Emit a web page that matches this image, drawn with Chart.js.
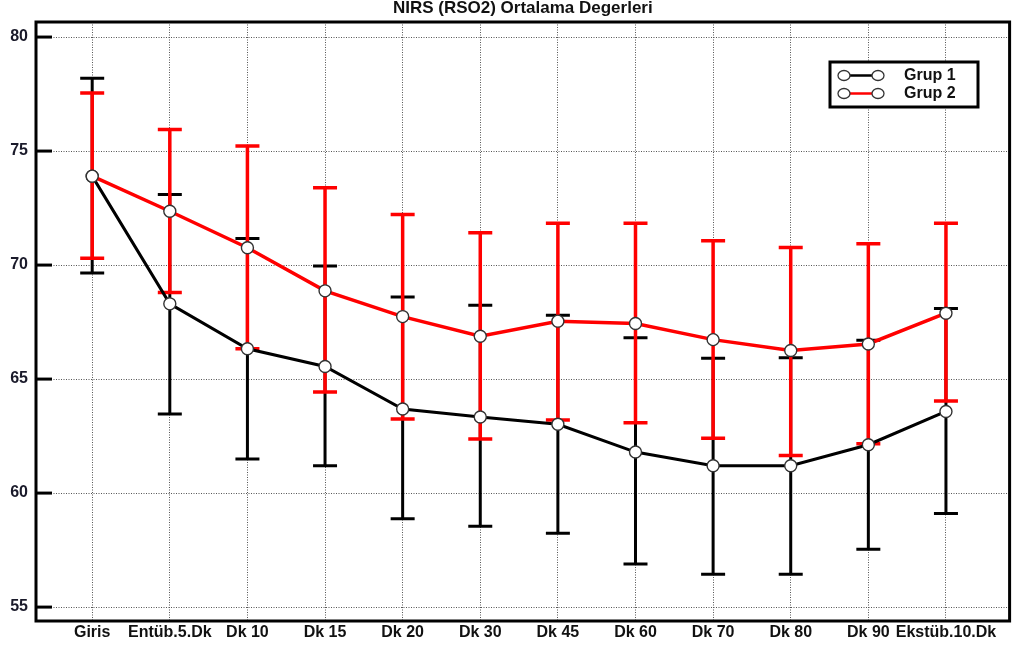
<!DOCTYPE html>
<html><head><meta charset="utf-8">
<script src="https://cdn.jsdelivr.net/npm/chart.js@4.4.0/dist/chart.umd.min.js"></script>
<style>html,body{margin:0;padding:0;background:#fff;}#wrap{width:1017px;height:655px;}</style>
</head><body><div id="wrap"><canvas id="c" width="1017" height="655"></canvas></div>
<script>
const titleText = 'NIRS (RSO2) Ortalama Degerleri';
const categories = ['Giris','Entüb.5.Dk','Dk 10','Dk 15','Dk 20','Dk 30','Dk 45','Dk 60','Dk 70','Dk 80','Dk 90','Ekstüb.10.Dk'];
const yTicks = [55, 60, 65, 70, 75, 80];
const seriesNames = ['Grup 1', 'Grup 2'];

const grup1Mean  = [73.9, 68.3, 66.33, 65.55, 63.69, 63.34, 63.02, 61.8, 61.2, 61.2, 62.12, 63.58];
const grup1Upper = [78.19, 73.1, 71.17, 69.96, 68.6, 68.24, 67.8, 66.81, 65.91, 65.93, 66.7, 68.1];
const grup1Lower = [69.65, 63.47, 61.5, 61.2, 58.87, 58.55, 58.24, 56.89, 56.44, 56.44, 57.54, 59.1];

const grup2Mean  = [73.9, 72.36, 70.76, 68.87, 67.74, 66.88, 67.54, 67.44, 66.73, 66.25, 66.54, 67.89];
const grup2Upper = [77.55, 75.95, 75.22, 73.39, 72.22, 71.42, 71.83, 71.83, 71.07, 70.77, 70.94, 71.83];
const grup2Lower = [70.3, 68.8, 66.33, 64.43, 63.25, 62.37, 63.21, 63.08, 62.41, 61.65, 62.16, 64.04];

const toPts = arr => arr.map((v, i) => ({x: i + 1, y: v}));
const FONT = '"Liberation Sans", Arial, sans-serif';

const errorBars = {
  id: 'errorBars',
  beforeDatasetsDraw(chart) {
    const {ctx, scales: {x, y}} = chart;
    const sets = [[grup1Upper, grup1Lower, '#000000', 3], [grup2Upper, grup2Lower, '#ff0000', 3.5]];
    ctx.save();
    ctx.lineCap = 'butt';
    sets.forEach(([up, lo, col, lw]) => {
      ctx.strokeStyle = col;
      ctx.lineWidth = lw;
      up.forEach((u, i) => {
        const px = x.getPixelForValue(i + 1);
        const pu = y.getPixelForValue(u), pl = y.getPixelForValue(lo[i]);
        ctx.beginPath();
        ctx.moveTo(px, pu); ctx.lineTo(px, pl);
        ctx.moveTo(px - 12, pu); ctx.lineTo(px + 12, pu);
        ctx.moveTo(px - 12, pl); ctx.lineTo(px + 12, pl);
        ctx.stroke();
      });
    });
    ctx.restore();
  }
};

const frame = {
  id: 'frame',
  afterDraw(chart) {
    const {ctx, chartArea: a, scales: {y}} = chart;
    ctx.save();
    ctx.strokeStyle = '#000';
    ctx.lineWidth = 3;
    ctx.strokeRect(a.left, a.top, a.right - a.left, a.bottom - a.top);
    yTicks.forEach(v => {
      const py = y.getPixelForValue(v);
      ctx.beginPath(); ctx.moveTo(a.left, py); ctx.lineTo(a.left + 16, py); ctx.stroke();
    });
    ctx.restore();
  }
};

const legendBox = {
  id: 'legendBox',
  afterDraw(chart) {
    const {ctx} = chart;
    const bx = 830, by = 62, bw = 148, bh = 45;
    ctx.save();
    ctx.fillStyle = '#fff';
    ctx.fillRect(bx, by, bw, bh);
    ctx.strokeStyle = '#000';
    ctx.lineWidth = 3;
    ctx.strokeRect(bx, by, bw, bh);
    const cols = ['#000000', '#ff0000'];
    seriesNames.forEach((name, i) => {
      const ry = 75.5 + i * 18;
      ctx.strokeStyle = cols[i];
      ctx.lineWidth = 2.5;
      ctx.beginPath(); ctx.moveTo(844, ry); ctx.lineTo(878, ry); ctx.stroke();
      [844, 878].forEach(cx => {
        ctx.beginPath();
        ctx.ellipse(cx, ry, 6, 5, 0, 0, Math.PI * 2);
        ctx.fillStyle = '#fff'; ctx.fill();
        ctx.strokeStyle = '#333'; ctx.lineWidth = 1.3; ctx.stroke();
      });
      ctx.fillStyle = '#111';
      ctx.font = 'bold 16px ' + FONT;
      ctx.textBaseline = 'middle';
      ctx.textAlign = 'left';
      ctx.fillText(name, 904, ry + 0.5);
    });
    ctx.restore();
  }
};

const pointStyleOpts = {
  pointRadius: 6, pointHoverRadius: 6,
  pointBackgroundColor: '#ffffff', pointBorderColor: '#333333', pointBorderWidth: 1.4,
  tension: 0, fill: false
};

new Chart(document.getElementById('c'), {
  type: 'line',
  data: {
    datasets: [
      Object.assign({label: seriesNames[1], data: toPts(grup2Mean), borderColor: '#ff0000', borderWidth: 3.5, order: 1}, pointStyleOpts),
      Object.assign({label: seriesNames[0], data: toPts(grup1Mean), borderColor: '#000000', borderWidth: 3, order: 2}, pointStyleOpts)
    ]
  },
  options: {
    responsive: false,
    animation: false,
    events: [],
    layout: {padding: {left: 0, right: 2, top: 0, bottom: 0}},
    plugins: {
      legend: {display: false},
      tooltip: {enabled: false},
      title: {
        display: true, text: titleText, fullSize: false,
        color: '#111',
        font: {family: FONT, weight: 'bold', size: 17, lineHeight: 1},
        padding: {top: 0, bottom: 5}
      }
    },
    scales: {
      x: {
        type: 'linear', min: 0.276, max: 12.82,
        afterBuildTicks: s => { s.ticks = categories.map((c, i) => ({value: i + 1})); },
        afterFit: s => { s.height = 34; },
        ticks: {
          autoSkip: false, maxRotation: 0, padding: 2,
          color: '#111',
          font: {family: FONT, weight: 'bold', size: 16},
          callback: v => categories[Math.round(v) - 1] || ''
        },
        grid: {color: '#555', lineWidth: 1, drawTicks: false},
        border: {display: false, dash: [1, 1.5]}
      },
      y: {
        min: 54.39, max: 80.66,
        afterBuildTicks: s => { s.ticks = yTicks.map(v => ({value: v})); },
        afterFit: s => { s.width = 36; },
        ticks: {
          padding: 8, color: '#1a1a2a',
          font: {family: FONT, weight: 'bold', size: 16}
        },
        grid: {color: '#555', lineWidth: 1, drawTicks: false},
        border: {display: false, dash: [1, 1.5]}
      }
    }
  },
  plugins: [errorBars, frame, legendBox]
});
</script>
</body></html>
